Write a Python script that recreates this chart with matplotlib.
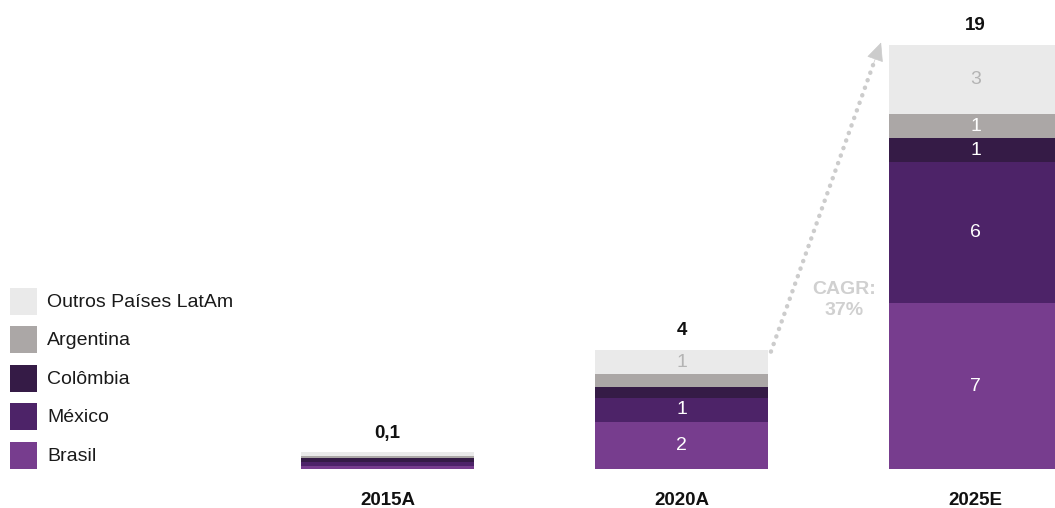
import numpy as np
import matplotlib.pyplot as plt

plt.rcParams['font.family'] = ['Liberation Sans', 'DejaVu Sans']

# valores (segmentos empilhados, base -> topo)
anos = ["2015A", "2020A", "2025E"]
totais_txt = ["0,1", "4", "19"]
paises = ["Brasil", "México", "Colômbia", "Argentina", "Outros Países LatAm"]
brasil = [0.14, 2.1, 7.4]
mexico = [0.16, 1.07, 6.3]
colombia = [0.18, 0.5, 1.07]
argentina = [0.1, 0.55, 1.07]
outros = [0.16, 1.1, 3.1]
cagr_txt = "CAGR:\n37%"

cores = ["#773d8e", "#4d2368", "#351b46", "#aba7a6", "#eaeaea"]
cor_txt = ["white", "white", "white", "white", "#b4b4b4"]

series = [brasil, mexico, colombia, argentina, outros]

fig = plt.figure(figsize=(10.55, 5.08), dpi=100)
ax = fig.add_axes([0, 0, 1, 1])
ax.axis("off")

x = np.arange(len(anos))
largura = 173 / 294
base = np.zeros(len(anos))
for vals, cor, ct in zip(series, cores, cor_txt):
    vals = np.array(vals)
    ax.bar(x, vals, largura, bottom=base, color=cor, linewidth=0)
    for xi, b, v in zip(x, base, vals):
        if v >= 1.0:
            ax.text(xi, b + v / 2, f"{round(v)}", ha="center", va="center",
                    color=ct, fontsize=14)
    base = base + vals

for xi, tot, txt in zip(x, base, totais_txt):
    ax.annotate(txt, (xi, tot), xytext=(0, 7.5), textcoords="offset points",
                ha="center", va="bottom", fontsize=13.5, fontweight="bold",
                color="#111111")
    ax.text(xi, -1.42, anos[xi], ha="center", va="center",
            fontsize=13.5, fontweight="bold", color="#111111")

# seta CAGR (linha pontilhada + ponta solida)
p0 = np.array([x[1] + largura / 2 + 0.01, base[1] - 0.08])
p1 = np.array([x[2] - largura / 2 - 0.027, base[2] + 0.1])
d = p1 - p0
ax.plot([p0[0], p0[0] + 0.95 * d[0]], [p0[1], p0[1] + 0.95 * d[1]],
        color="#cccccc", lw=3.2, linestyle=(0, (0.05, 1.75)),
        solid_capstyle="round", dash_capstyle="round")
ax.annotate("", xy=p1, xytext=p0 + 0.93 * d,
            arrowprops=dict(arrowstyle="-|>,head_length=1.2,head_width=0.55",
                            color="#cccccc", lw=0.5, shrinkA=0, shrinkB=0))
ax.text(1.553, 7.55, cagr_txt, ha="center", va="center", fontsize=14,
        fontweight="bold", color="#d0d0d0", linespacing=1.35)

ax.set_xlim(-387.5 / 294, (1055 - 387.5) / 294)
ax.set_ylim(-39 / 22.4, (508 - 39) / 22.4)

# legenda manual, em pixels da figura
lax = fig.add_axes([0, 0, 1, 1])
lax.set_xlim(0, 1055)
lax.set_ylim(508, 0)
lax.axis("off")
for i, (cor, nome) in enumerate(zip(cores[::-1], paises[::-1])):
    yc = 301.5 + i * 38.4
    lax.add_patch(plt.Rectangle((10, yc - 13.5), 27, 27, color=cor, lw=0))
    lax.text(47, yc + 1, nome, ha="left", va="center", fontsize=14,
             color="#1a1a1a")

fig.savefig("out.png", dpi=100)
